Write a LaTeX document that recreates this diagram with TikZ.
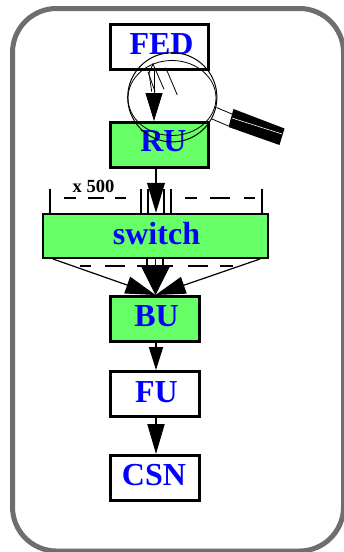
\documentclass[tikz,border=0pt]{standalone}
\usepackage{fontspec}
\setmainfont{Liberation Serif}
\usetikzlibrary{arrows.meta}
\definecolor{boxgreen}{RGB}{102,255,102}
\definecolor{framegray}{RGB}{110,110,110}
\definecolor{labelblue}{RGB}{0,0,255}
\tikzset{
  x=1pt,y=-1pt,
  boxbase/.style={draw=black,line width=3pt,minimum height=45pt,inner sep=0pt},
  greenbox/.style={boxbase,fill=boxgreen},
  whitebox/.style={boxbase,fill=white},
  boxlabel/.style={inner sep=0pt,text=labelblue,font=\bfseries\fontsize{32}{32}\selectfont},
  conn/.style={line width=2pt},
  thin line/.style={line width=0.8pt},
  dashrule/.style={line width=1.9pt},
}
\begin{document}
\begin{tikzpicture}
\useasboundingbox (0,0) rectangle (343,552);
\fill[white] (0,0) rectangle (343,552);
\draw[framegray,line width=5pt,rounded corners=44pt] (12.5,8.5) rectangle (343.5,551);
\node[whitebox,minimum width=98pt] (fed) at (159.5,47) {};
\node[greenbox,minimum width=98pt] (ru) at (159.5,145) {};
\node[greenbox,minimum width=225pt,minimum height=44pt,line width=2.2pt] (switch) at (155.4,236) {};
\node[greenbox,minimum width=89.5pt] (bu) at (155,319) {};
\node[whitebox,minimum width=89.5pt] (fu) at (155,394) {};
\node[whitebox,minimum width=89.5pt] (csn) at (155,478) {};
\node[boxlabel] (fedt) at (161.5,44) {FED};
\node[boxlabel] (rut) at (163.5,141) {RU};
\node[boxlabel] (switcht) at (156.5,234) {switch};
\node[boxlabel] (but) at (156.5,316) {BU};
\node[boxlabel] (fut) at (156.5,392.5) {FU};
\node[boxlabel] (csnt) at (154,475) {CSN};
\coordinate (a1) at (154,0);
\coordinate (a2) at (156,0);
\draw[thin line,-{Triangle[length=28pt,width=17pt]}] (fed.south-|a1) -- (ru.north-|a1);
\draw[conn,-{Triangle[length=30pt,width=17.5pt]}] (ru.south-|a2) -- (switch.north-|a2);
\draw[conn,-{Triangle[length=23pt,width=14pt]}] (bu.south-|a2) -- (fu.north-|a2);
\draw[conn,-{Triangle[length=30pt,width=17pt]}] (fu.south-|a2) -- (csn.north-|a2);
\foreach \i/\xx in {1/50,2/141,3/147.7,4/164,5/171,6/261.7}{
  \coordinate (t\i) at (\xx,189);
  \draw[conn] (t\i) -- (t\i|-switch.north);
}
\coordinate (d1) at (64.3,198);\coordinate (d2) at (126,198);
\coordinate (d3) at (185,198);\coordinate (d4) at (255,198);
\draw[dashrule,dash pattern=on 11.4pt off 12.6pt on 15.7pt off 11pt on 12pt off 5pt] (d1) -- (d2);
\draw[dashrule,dash pattern=on 12pt off 13pt on 20pt off 14pt on 12pt off 5pt] (d3) -- (d4);
\node[font=\bfseries\fontsize{18.5}{18.5}\selectfont,inner sep=0pt] (xl) at (93.5,186) {x 500};
\coordinate (d5) at (80,265.7);\coordinate (d6) at (233,265.7);
\draw[dashrule,dash pattern=on 11pt off 14pt on 20pt off 12pt on 36pt off 15pt on 20pt off 12pt on 14pt off 5pt] (d5) -- (d6);
\coordinate (tip) at (155.5,295);
\coordinate (s1) at (53,259);\coordinate (s2) at (260,259);
\draw[line width=1.2pt,-{Triangle[length=30pt,width=17.5pt]}] (s1) -- (tip);
\draw[line width=1.2pt,-{Triangle[length=30pt,width=17.5pt]}] (s2) -- (tip);
\draw[conn] (147,259) -- (147,268);
\draw[conn] (163,259) -- (163,268);
\coordinate (s3) at (155.5,259);
\draw[line width=1pt,-{Triangle[length=28pt,width=28pt]}] (s3) -- (tip);
% magnifying glass
\draw[line width=1pt] (172.3,97.3) circle (44.6);
\draw[thin line] (172,98) ellipse (44 and 37.5);
\draw[thin line] (152.7,63.3) -- (164,89.3);
\draw[thin line] (165.7,67.7) -- (177.3,95);
\draw[thin line] (148,71.7) -- (155,91.7);
\draw[thin line] (153,64) -- (149,73) -- (151.7,91.7);
\draw[line width=0.8pt] (216.5,107.5) -- (233,114.5);
\draw[line width=0.8pt] (212,119) -- (228.5,126);
\fill[black] (233.5,109) -- (284.5,128.5) -- (279.5,145) -- (228.5,127) -- cycle;
\draw[white,line width=0.6pt] (232,118) -- (282,134);
\end{tikzpicture}
\end{document}
